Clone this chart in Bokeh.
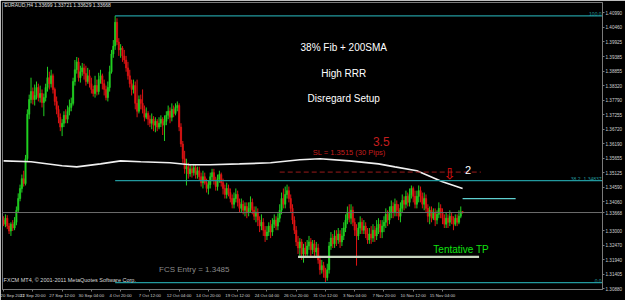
from bokeh.plotting import figure
from bokeh.models import FixedTicker, Label, Range1d, Span, ColumnDataSource
from bokeh.embed import file_html
from bokeh.resources import INLINE

# ---- data (prices as pips above 1.3000) ----
BASE = 1.30
open_pips = [
339,324,346,317,299,324,310,331,375,418,
455,491,473,564,727,781,810,781,796,825,
788,803,770,788,825,861,839,868,818,774,
745,716,680,694,723,709,738,752,767,847,
890,919,861,883,897,876,847,868,839,818,
803,832,810,854,868,839,818,788,825,883,
948,977,1064,992,963,970,941,926,897,868,
839,818,832,767,738,781,767,745,716,730,
709,694,709,687,701,680,694,709,687,701,
723,738,716,745,730,752,759,680,618,564,
527,535,509,527,513,531,506,520,498,476,
498,476,455,469,498,513,484,462,491,506,
476,455,433,455,440,418,397,418,433,404,
382,397,375,389,368,382,404,375,353,368,
339,317,331,302,281,295,317,295,324,339,
317,346,375,418,397,433,447,418,382,339,
302,259,237,259,215,237,215,244,259,230,
252,222,237,193,157,172,150,128,157,244,
273,252,281,266,288,259,281,310,339,368,
346,375,331,302,281,310,331,302,317,288,
266,288,273,302,281,310,324,295,317,331,
360,339,368,389,368,397,375,353,382,411,
397,426,404,433,455,426,397,426,447,426,
397,418,382,353,375,346,368,339,360,382,
368,346,324,346,331,353,339,324,346,331,
353,369.9]
high_pips = [
353,360,357,328,331,339,350,389,437,469,
506,520,578,745,799,861,825,836,847,839,
832,818,803,839,901,883,890,876,825,792,
759,730,709,738,745,759,781,788,861,926,
937,934,905,915,912,905,897,890,861,832,
868,854,879,890,876,854,832,847,905,963,
999,1088,1079,1006,984,977,963,941,919,890,
854,854,847,854,796,799,818,759,752,738,
723,730,720,716,709,716,723,716,723,738,
759,752,767,759,767,774,767,694,629,593,
564,549,542,538,545,542,535,535,513,520,
513,491,484,513,527,527,498,506,520,513,
491,469,476,469,455,433,440,455,447,418,
418,411,404,404,404,426,418,389,389,382,
353,360,346,317,317,331,339,346,360,353,
364,397,440,455,462,469,462,433,397,353,
317,281,273,270,252,259,266,281,273,266,
266,259,252,208,193,186,164,179,259,295,
288,302,302,310,302,310,331,360,389,397,
397,389,346,324,331,353,346,339,331,310,
310,317,324,317,339,346,339,339,353,382,
375,389,411,404,418,411,397,404,433,426,
447,440,455,466,462,447,447,466,462,440,
440,433,397,389,389,382,382,375,404,397,
382,360,368,360,375,368,353,360,360,375,
389,372.1]
low_pips = [
317,313,306,288,281,299,302,320,368,408,
440,462,466,553,709,767,763,759,781,774,
770,752,720,774,810,818,825,803,759,727,
694,665,647,680,694,694,723,738,759,832,
876,847,843,868,854,832,839,825,803,792,
788,796,799,839,818,796,778,774,810,876,
934,963,981,941,934,919,912,883,854,825,
796,803,745,716,730,745,730,701,709,687,
680,672,665,661,665,672,680,651,629,687,
709,694,701,716,723,738,665,607,549,509,
466,491,498,495,502,491,491,484,462,455,
469,440,433,455,484,469,447,447,476,462,
433,418,418,426,404,382,382,404,389,368,
368,360,353,346,353,368,360,339,331,317,
295,302,281,259,266,281,273,281,310,302,
302,331,360,382,382,418,404,368,324,288,
244,215,208,193,183,201,201,230,208,215,
201,208,179,139,143,128,110,117,143,230,
237,237,244,252,237,244,266,295,324,331,
324,317,281,172,266,288,288,288,273,252,
252,252,259,259,266,288,273,273,295,310,
317,324,346,346,353,353,339,331,368,375,
382,389,389,418,404,382,382,404,404,382,
375,368,331,324,331,339,317,324,346,346,
324,310,310,310,317,324,302,317,317,324,
346,362.9]
close_pips = [
324,346,317,299,324,310,331,375,418,455,
491,473,564,727,781,810,781,796,825,788,
803,770,788,825,861,839,868,818,774,745,
716,680,694,723,709,738,752,767,847,890,
919,861,883,897,876,847,868,839,818,803,
832,810,854,868,839,818,788,825,883,948,
977,1064,992,963,970,941,926,897,868,839,
818,832,767,738,781,767,745,716,730,709,
694,709,687,701,680,694,709,687,701,723,
738,716,745,730,752,759,680,618,564,527,
535,509,527,513,531,506,520,498,476,498,
476,455,469,498,513,484,462,491,506,476,
455,433,455,440,418,397,418,433,404,382,
397,375,389,368,382,404,375,353,368,339,
317,331,302,281,295,317,295,324,339,317,
346,375,418,397,433,447,418,382,339,302,
259,237,259,215,237,215,244,259,230,252,
222,237,193,157,172,150,128,157,244,273,
252,281,266,288,259,281,310,339,368,346,
375,331,302,281,310,331,302,317,288,266,
288,273,302,281,310,324,295,317,331,360,
339,368,389,368,397,375,353,382,411,397,
426,404,433,455,426,397,426,447,426,397,
418,382,353,375,346,368,339,360,382,368,
346,324,346,331,353,339,324,346,331,353,
370,366.8]

sma_bars = [0, 15, 32, 40, 53, 64, 75, 91, 102, 113, 129, 146, 162, 173, 189, 205, 214, 226, 240, 251]
sma_pips = [556, 553, 538, 534, 545, 556, 553, 549, 542, 542, 545, 549, 560, 564, 556, 545, 534, 520, 480, 455]

date_tick_bars = [0, 16, 32, 48, 64, 80, 96, 112, 128, 144, 160, 176, 192, 208, 224, 240]
date_labels = ["20 Sep 2011", "22 Sep 20:00", "27 Sep 12:00", "30 Sep 04:00", "4 Oct 20:00",
               "7 Oct 12:00", "12 Oct 04:00", "14 Oct 20:00", "19 Oct 12:00", "24 Oct 04:00",
               "26 Oct 20:00", "31 Oct 12:00", "3 Nov 04:00", "7 Nov 20:00", "10 Nov 12:00",
               "15 Nov 04:00"]
price_tick_labels = ["1.40990", "1.40460", "1.39925", "1.39385", "1.38855", "1.38320", "1.37790",
                     "1.37255", "1.36720", "1.36190", "1.35655", "1.35125", "1.34590", "1.34060",
                     "1.33668", "1.33000", "1.32470", "1.31940", "1.31405", "1.30880"]
price_ticks = [float(s) for s in price_tick_labels]

last_price = 1.33668
fib_high, fib_low, fib_start_bar = 1.4088, 1.3110, 61
fib_382 = 1.34837
sl_price, sl_bars = 1.3515, (151, 261)
tp_price, tp_bars = 1.3204, (161, 260)
cyan_price, cyan_bars = 1.3418, (251, 280)

# ---- derived prices ----
o = [BASE + v / 10000 for v in open_pips]
h = [BASE + v / 10000 for v in high_pips]
l = [BASE + v / 10000 for v in low_pips]
c = [BASE + v / 10000 for v in close_pips]
n = len(c)
xs = list(range(n))
UP, DN = "#22d022", "#e01414"
cols = [UP if c[i] >= o[i] else DN for i in range(n)]
src = ColumnDataSource(dict(x=xs, o=o, h=h, l=l, c=c,
                            top=[max(o[i], c[i]) for i in range(n)],
                            bot=[min(o[i], c[i]) for i in range(n)], col=cols))

X0, X1 = -0.6, 327.5
Y0, Y1 = 1.30846, 1.41367

p = figure(width=625, height=300, output_backend="svg", toolbar_location=None,
           x_range=Range1d(X0, X1), y_range=Range1d(Y0, Y1), y_axis_location="right",
           background_fill_color="black", border_fill_color="black",
           min_border_left=2, min_border_top=2, min_border_right=0, min_border_bottom=0)
p.grid.visible = False
p.outline_line_color = "#7a7a7a"

# candles
p.segment("x", "h", "x", "l", source=src, line_color="col", line_width=1)
p.vbar(x="x", width=0.7, top="top", bottom="bot", source=src,
       fill_color="col", line_color="col", line_width=0.6)

# 200 SMA
p.line([b for b in sma_bars], [BASE + v / 10000 for v in sma_pips], line_color="#f0f0f0", line_width=1.6)

# current price line
p.add_layout(Span(location=last_price, dimension="width", line_color="#6c6c6c", line_width=1))

# fibonacci
FIB = "#22999e"
for lv in (fib_high, fib_382, fib_low):
    p.segment([fib_start_bar], [lv], [X1 + 10], [lv], line_color=FIB, line_width=1.2)

# SL dashed line, TP line, cyan line
p.segment([sl_bars[0]], [sl_price], [sl_bars[1]], [sl_price], line_color="#9a1a1a", line_width=1, line_dash="5 3")
p.segment([tp_bars[0]], [tp_price], [tp_bars[1]], [tp_price], line_color="#c8d6c0", line_width=2.2)
p.segment([cyan_bars[0]], [cyan_price], [cyan_bars[1]], [cyan_price], line_color="#5fd0d0", line_width=1.3)

def lab(x, y, t, size, color, align="left", base="middle", font="Liberation Sans", **kw):
    lb = Label(x=x, y=y, text=t, text_font_size=size, text_color=color,
               text_align=align, text_baseline=base, text_font=font, **kw)
    p.add_layout(lb)
    return lb

lab(186, 1.3970, "38% Fib + 200SMA", "10px", "#ffffff", "center")
lab(186, 1.3876, "High RRR", "10px", "#ffffff", "center")
lab(186, 1.3785, "Disregard Setup", "10px", "#ffffff", "center")
lab(206.5, 1.3626, "3.5", "12px", "#c41e1e", "center")
lab(189, 1.3585, "SL = 1.3515 (30 Pips)", "7.5px", "#c41e1e", "center")
lab(244, 1.3507, "\u21e9", "15px", "#e01010", "center", font="DejaVu Sans")
lab(254, 1.3522, "2", "11px", "#ffffff", "center")
lab(235, 1.3233, "Tentative TP", "10px", "#10e010", "left")
lab(85, 1.3157, "FCS Entry = 1.3485", "8px", "#8a8a8a", "left")
lab(0.3, 1.4126, "EURAUD,H4  1.33699 1.33721 1.33629 1.33668", "5px", "#e0e0e0", "left")
lab(0.0, 1.3118, "FXCM MT4, \u00a9 2001-2011 MetaQuotes Software Corp.", "5.5px", "#d8d8d8", "left")
lab(X1 - 0.5, fib_high, "100.0", "5px", FIB, "right", "bottom")
lab(X1 - 12, fib_382, "38.2", "5px", FIB, "right", "bottom")
lab(X1 - 0.5, fib_382, "1.34837", "5px", FIB, "right", "bottom")
lab(X1 - 0.5, fib_low, "0.0", "5px", FIB, "right", "bottom")

# axes
xa = p.xaxis[0]
xa.ticker = FixedTicker(ticks=date_tick_bars)
xa.major_label_overrides = {b: s for b, s in zip(date_tick_bars, date_labels)}
xa.major_label_text_font = "Liberation Sans"
xa.major_label_text_font_size = "4.3px"
xa.major_label_text_color = "#d0d0d0"
xa.major_label_text_align = "left"
xa.major_label_standoff = 1
xa.axis_line_color = "#7a7a7a"
xa.major_tick_line_color = "#7a7a7a"
xa.major_tick_in = 0
xa.major_tick_out = 2
xa.minor_tick_line_color = None

ya = p.yaxis[0]
ya.ticker = FixedTicker(ticks=price_ticks)
ya.major_label_overrides = {t: s for t, s in zip(price_ticks, price_tick_labels)}
ya.major_label_text_font = "Liberation Sans"
ya.major_label_text_font_size = "4.6px"
ya.major_label_text_color = "#d0d0d0"
ya.major_label_standoff = 1
ya.axis_line_color = "#7a7a7a"
ya.major_tick_line_color = "#7a7a7a"
ya.major_tick_in = 0
ya.major_tick_out = 2
ya.minor_tick_line_color = None

open("out.html", "w").write(file_html(p, INLINE))
